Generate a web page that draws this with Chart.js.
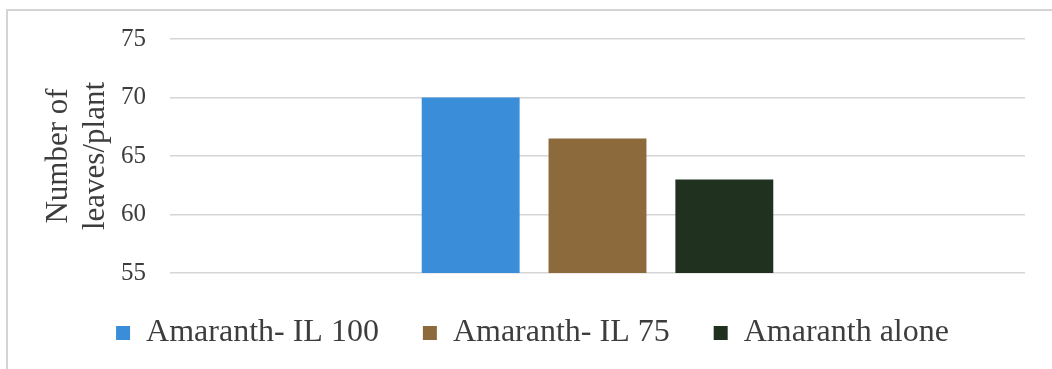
<!DOCTYPE html>
<html>
<head>
<meta charset="utf-8">
<script src="https://cdn.jsdelivr.net/npm/chart.js@4/dist/chart.umd.min.js"></script>
<style>
  html, body { margin: 0; padding: 0; background: #fff; }
  #frame {
    position: absolute; left: 6px; top: 9px; width: 1044px; height: 358px;
    border: 2px solid #d4d4d4; border-right-width: 1px;
  }
  #wrap { position: absolute; left: 0; top: 0; width: 1052px; height: 369px; }
</style>
</head>
<body>
<div id="frame"></div>
<div id="wrap"><canvas id="leavesChart" width="1052" height="369"></canvas></div>
<script>
const categories = [''];
const seriesNames = ['Amaranth- IL 100', 'Amaranth- IL 75', 'Amaranth alone'];
const seriesValues = [[70], [66.5], [63]];
const seriesColors = ['#3a8ed9', '#8d6a3c', '#20321f'];
const yTicks = [55, 60, 65, 70, 75];

const serif = '"Liberation Serif", "DejaVu Serif", serif';

const datasets = seriesNames.map((name, i) => ({
    label: name,
    data: seriesValues[i],
    backgroundColor: seriesColors[i],
    borderWidth: 0,
    categoryPercentage: 0.445,
    barPercentage: 0.772
}));

new Chart(document.getElementById('leavesChart').getContext('2d'), {
    type: 'bar',
    data: { labels: categories, datasets: datasets },
    options: {
        responsive: false,
        animation: false,
        layout: { padding: { left: 40, right: 27, top: 31, bottom: 10 } },
        plugins: {
            legend: {
                position: 'bottom',
                labels: {
                    usePointStyle: true,
                    pointStyle: 'rect',
                    boxWidth: 14,
                    boxHeight: 14,
                    padding: 44,
                    color: '#3d3d3d',
                    font: { family: serif, size: 32 }
                }
            },
            tooltip: { enabled: false }
        },
        scales: {
            x: { display: false },
            y: {
                min: yTicks[0],
                max: yTicks[yTicks.length - 1],
                afterBuildTicks: axis => { axis.ticks = yTicks.map(v => ({ value: v })); },
                // keep the title close to the tick labels
                afterFit: axis => { axis.width = 130; },
                border: { display: false },
                grid: { color: '#d6d6d6', lineWidth: 1.5, drawTicks: false },
                ticks: {
                    padding: 24,
                    color: '#3d3d3d',
                    font: { family: serif, size: 25 }
                },
                title: {
                    display: true,
                    text: ['Number of', 'leaves/plant'],
                    color: '#3d3d3d',
                    padding: { top: 0, bottom: 7 },
                    font: { family: serif, size: 31, lineHeight: 1.2 }
                }
            }
        }
    }
});
</script>
</body>
</html>
